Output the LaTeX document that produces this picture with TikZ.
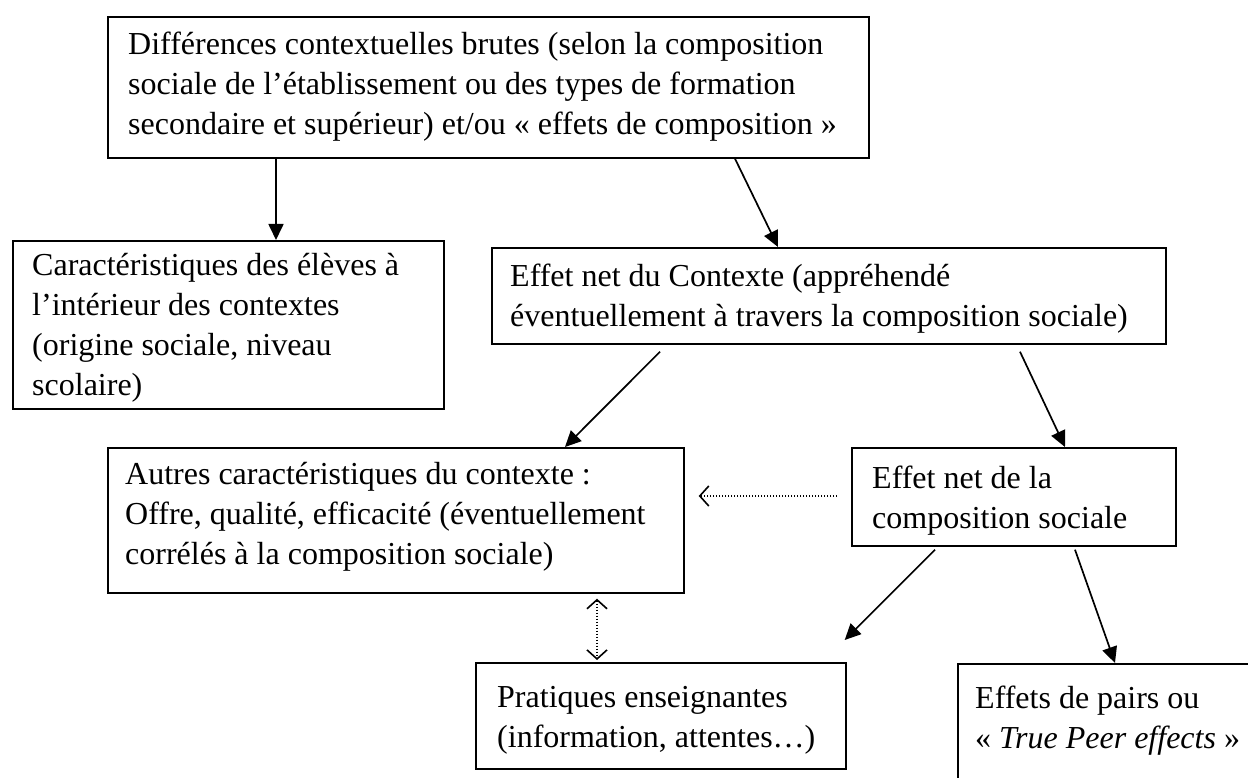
\documentclass[tikz,border=0pt]{standalone}
\usepackage{fontspec}
\setmainfont{Liberation Serif}
\usetikzlibrary{arrows.meta,calc}
\tikzset{
  box/.style={draw, line width=1.7pt, inner sep=0pt, anchor=north west},
  txt/.style={inner sep=0pt, anchor=north west, align=left, font=\fontsize{32}{40}\selectfont},
  arr/.style={line width=1.7pt, -{Triangle[length=16pt,width=15pt]}},
  dotarr/.style={line width=1.4pt, dash pattern=on 1.4pt off 1.6pt, -{Straight Barb[length=9pt,width=20pt,line width=1.6pt]}},
  dotdbl/.style={line width=1.4pt, dash pattern=on 1.4pt off 1.6pt, {Straight Barb[length=9pt,width=20pt,line width=1.6pt]}-{Straight Barb[length=9pt,width=20pt,line width=1.6pt]}}
}
\begin{document}
\begin{tikzpicture}[x=1pt,y=-1pt]
\useasboundingbox[fill=white] (0,0) rectangle (1248,778);
\clip (0,0) rectangle (1248,778);

% boxes
\node[box, minimum width=761pt, minimum height=141pt] (top) at (107,16) {};
\node[box, minimum width=431pt, minimum height=168pt] (left) at (12,240) {};
\node[box, minimum width=674pt, minimum height=96pt] (ctx) at (491,247) {};
\node[box, minimum width=576pt, minimum height=145pt] (autres) at (107,447) {};
\node[box, minimum width=324pt, minimum height=98pt] (comp) at (851,447) {};
\node[box, minimum width=370pt, minimum height=106pt] (prat) at (475,662) {};
\node[box, minimum width=320pt, minimum height=150pt] (pairs) at (957,663) {};

% texts
\node[txt] (topT) at ($(top.north west)+(21,16)$) {Différences contextuelles brutes (selon la composition\\sociale de l’établissement ou des types de formation\\secondaire et supérieur) et/ou « effets de composition »};
\node[txt] (leftT) at ($(left.north west)+(20,13)$) {Caractéristiques des élèves à\\l’intérieur des contextes\\(origine sociale, niveau\\scolaire)};
\node[txt] (ctxT) at ($(ctx.north west)+(19,17)$) {Effet net du Contexte (appréhendé\\éventuellement à travers la composition sociale)};
\node[txt] (autresT) at ($(autres.north west)+(18,15)$) {Autres caractéristiques du contexte :\\Offre, qualité, efficacité (éventuellement\\corrélés à la composition sociale)};
\node[txt] (compT) at ($(comp.north west)+(21,19)$) {Effet net de la\\composition sociale};
\node[txt] (pratT) at ($(prat.north west)+(22,24)$) {Pratiques enseignantes\\(information, attentes…)};
\node[txt] (pairsT) at ($(pairs.north west)+(18,23)$) {Effets de pairs ou\\« \textit{True Peer effects} »};

% connectors
\draw[arr] ($(top.south west)+(169,0)$) -- ($(left.north west)+(264,0)$);
\draw[arr] ($(top.south west)+(628,0)$) -- ($(ctx.north west)+(287,0)$);
\draw[arr] ($(ctx.south west)+(169,7)$) -- ($(autres.north west)+(458,0)$);
\draw[arr] ($(ctx.south west)+(529,7)$) -- ($(comp.north west)+(214,0)$);
\draw[dotarr] ($(comp.north west)+(-14,49)$) -- ($(autres.north east)+(14,49)$);
\draw[dotdbl] ($(autres.south west)+(490,5)$) -- ($(prat.north west)+(122,-2)$);
\draw[arr] ($(comp.south west)+(84,3)$) -- ($(prat.north east)+(-2,-22)$);
\draw[arr] ($(comp.south west)+(224,3)$) -- ($(pairs.north west)+(158,0)$);
\end{tikzpicture}
\end{document}
